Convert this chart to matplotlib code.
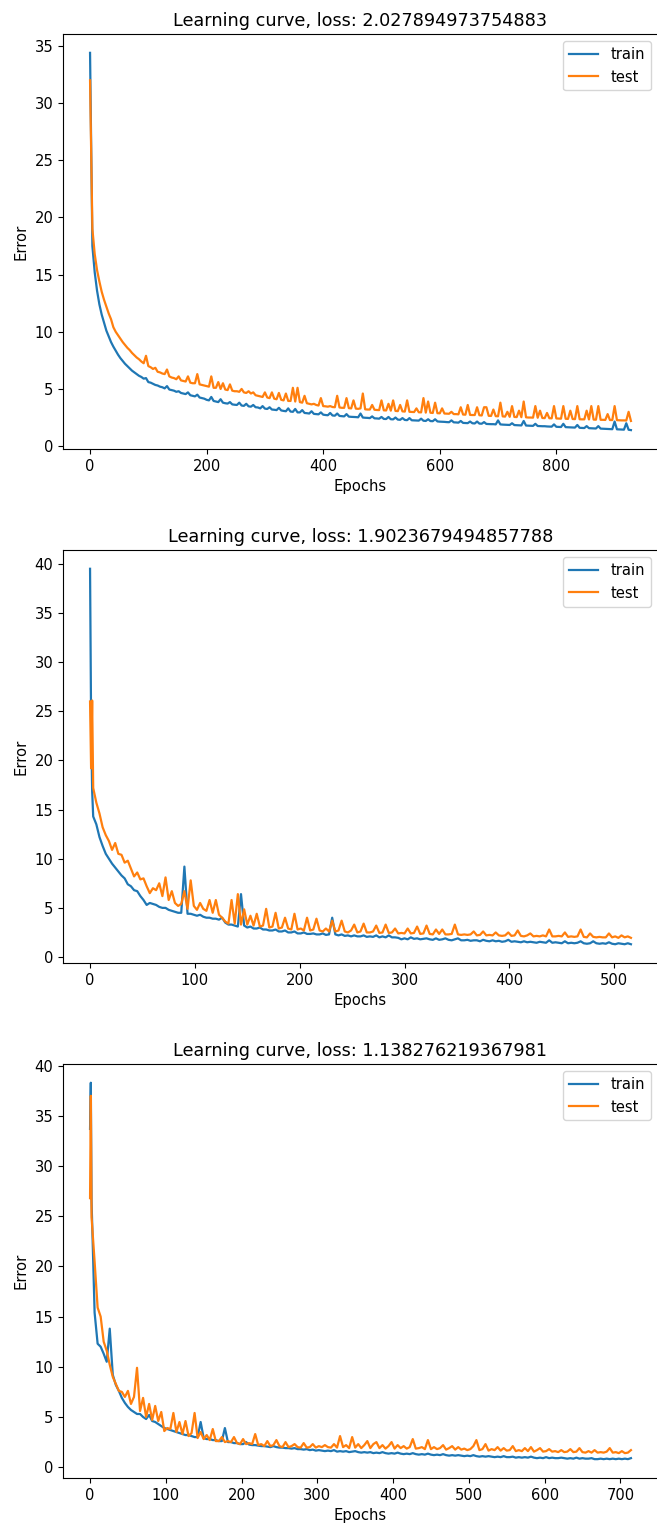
## Import Required Libraries

import numpy as np
import matplotlib
matplotlib.use("Agg")
import matplotlib.pyplot as plt

## Data

# run 1: first epochs written one by one, then every 4 epochs
run1_loss = "2.027894973754883"
run1_train = [
    34.4, 17.5, 15.2, 13.6, 12.4, 11.5, 10.8, 10.1, 9.6, 9.1,
    8.7, 8.35, 8.0, 7.7, 7.45, 7.2, 7.0, 6.8, 6.6, 6.45,
    6.3, 6.15, 6.05, 5.9, 5.95, 5.6, 5.55, 5.45, 5.35, 5.3,
    5.2, 5.15, 5.05, 5.25, 4.95, 4.9, 4.85, 4.75, 4.8, 4.65,
    4.6, 4.55, 4.7, 4.45, 4.4, 4.35, 4.5, 4.25, 4.2, 4.15,
    4.05, 4.0, 4.3, 3.95, 3.9, 3.85, 4.1, 3.8, 3.75, 3.72,
    3.85, 3.65, 3.62, 3.6, 3.8, 3.55, 3.52, 3.7, 3.48, 3.45,
    3.6, 3.4, 3.38, 3.3, 3.5, 3.28, 3.25, 3.4, 3.2, 3.18,
    3.15, 3.35, 3.12, 3.08, 3.05, 3.3, 3.02, 3.0, 3.25, 2.95,
    2.95, 3.15, 2.9, 2.88, 2.85, 3.05, 2.82, 2.8, 2.78, 2.95,
    2.75, 2.72, 2.7, 2.9, 2.68, 2.66, 2.85, 2.64, 2.62, 2.6,
    2.8, 2.58, 2.56, 2.55, 2.54, 2.52, 2.85, 2.5, 2.48, 2.47,
    2.45, 2.6, 2.43, 2.42, 2.4, 2.55, 2.38, 2.37, 2.55, 2.35,
    2.34, 2.5, 2.32, 2.3, 2.45, 2.29, 2.27, 2.45, 2.26, 2.25,
    2.24, 2.23, 2.4, 2.22, 2.2, 2.35, 2.19, 2.18, 2.35, 2.16,
    2.14, 2.13, 2.12, 2.1, 2.09, 2.25, 2.08, 2.07, 2.05, 2.2,
    2.03, 2.02, 2.01, 2.15, 2.0, 1.98, 2.15, 1.97, 1.96, 2.1,
    1.94, 1.93, 1.92, 1.92, 1.9, 2.25, 1.9, 1.88, 1.87, 1.86,
    1.85, 2.0, 1.84, 1.83, 1.82, 1.81, 2.2, 1.8, 1.79, 1.78,
    1.77, 1.95, 1.76, 1.75, 1.74, 1.74, 1.72, 1.71, 1.7, 1.9,
    1.69, 1.68, 1.67, 1.95, 1.66, 1.65, 1.64, 1.63, 1.62, 1.85,
    1.6, 1.59, 1.58, 1.75, 1.57, 1.56, 1.55, 1.54, 1.75, 1.53,
    1.52, 1.51, 1.5, 1.49, 1.48, 2.15, 1.47, 1.46, 1.45, 1.44,
    2.0, 1.43, 1.4,
]
run1_test = [
    32.0, 19.0, 16.8, 15.4, 14.4, 13.5, 12.8, 12.2, 11.6, 11.1,
    10.4, 10.0, 9.7, 9.4, 9.1, 8.85, 8.6, 8.4, 8.15, 7.95,
    7.75, 7.6, 7.4, 7.25, 7.9, 7.0, 6.9, 6.75, 6.85, 6.5,
    6.45, 6.35, 6.3, 6.7, 6.1, 6.0, 5.95, 5.85, 6.1, 5.75,
    5.7, 5.65, 6.1, 5.55, 5.5, 5.5, 6.3, 5.4, 5.35, 5.3,
    5.25, 5.2, 6.1, 5.1, 5.1, 5.6, 5.0, 5.5, 4.95, 4.9,
    5.4, 4.85, 4.8, 4.8, 4.75, 5.0, 4.7, 4.65, 4.8, 4.6,
    4.7, 4.45, 4.4, 4.35, 4.3, 4.7, 4.25, 4.2, 4.7, 4.15,
    4.1, 4.65, 4.05, 4.0, 4.6, 3.95, 3.95, 5.1, 3.9, 5.1,
    3.85, 3.8, 4.4, 3.75, 3.7, 3.65, 3.7, 3.6, 3.55, 4.2,
    3.5, 3.48, 3.45, 3.5, 3.42, 3.4, 4.4, 3.38, 3.35, 3.35,
    4.2, 3.32, 3.3, 4.0, 3.28, 3.26, 3.3, 4.6, 3.22, 3.2,
    3.2, 3.6, 3.18, 3.16, 3.15, 4.0, 3.13, 3.12, 3.7, 3.1,
    4.0, 3.08, 3.06, 3.6, 3.04, 3.02, 4.0, 3.0, 2.99, 2.98,
    3.3, 2.96, 2.95, 4.2, 2.93, 3.9, 2.92, 2.9, 3.8, 2.88,
    2.87, 3.3, 2.85, 2.84, 2.83, 3.0, 2.8, 2.8, 2.78, 3.4,
    2.76, 2.75, 3.6, 2.73, 2.72, 2.72, 3.4, 2.7, 2.68, 3.4,
    3.4, 2.65, 2.64, 3.2, 2.62, 2.61, 3.8, 2.6, 2.58, 3.0,
    2.56, 3.5, 2.55, 2.54, 3.1, 2.53, 3.9, 2.52, 2.5, 2.5,
    2.49, 3.5, 2.48, 3.1, 2.46, 2.45, 2.9, 2.44, 2.43, 3.5,
    2.42, 2.41, 2.4, 3.5, 2.39, 2.38, 3.1, 2.37, 2.36, 3.5,
    2.35, 2.34, 2.34, 3.1, 2.33, 3.5, 2.32, 2.31, 3.5, 2.3,
    2.3, 2.29, 2.8, 2.28, 2.28, 3.5, 2.27, 2.26, 2.25, 2.25,
    2.24, 3.0, 2.2,
]

# run 2: epochs 0, 1, 2 and then every 3 epochs
run2_loss = "1.9023679494857788"
run2_head = [0, 1, 2]
run2_train = [
    39.5, 24.0, 16.9,
    14.3, 13.5, 12.2, 11.3, 10.5, 10.0, 9.5, 9.1, 8.7, 8.3,
    8.0, 7.4, 7.2, 6.8, 6.7, 6.2, 5.8, 5.3, 5.5, 5.4,
    5.3, 5.1, 5.0, 5.0, 4.8, 4.7, 4.6, 4.5, 4.5, 9.2,
    4.4, 4.4, 4.3, 4.2, 4.3, 4.1, 4.0, 4.0, 3.9, 3.9,
    3.8, 4.0, 3.5, 3.3, 3.3, 3.2, 3.1, 6.4, 3.2, 3.0,
    3.1, 2.9, 2.9, 3.0, 2.8, 2.8, 2.7, 2.7, 2.8, 2.6,
    2.6, 2.7, 2.5, 2.5, 2.6, 2.4, 2.4, 2.5, 2.35, 2.35,
    2.4, 2.3, 2.3, 2.4, 2.25, 2.3, 4.0, 2.3, 2.2, 2.3,
    2.15, 2.2, 2.1, 2.2, 2.1, 2.1, 2.2, 2.05, 2.1, 2.05,
    2.2, 2.0, 2.1, 2.0, 2.2, 2.0, 2.0, 1.95, 1.8, 1.9,
    1.8, 2.0, 1.85, 1.9, 1.8, 1.85, 1.9, 1.8, 1.75, 1.9,
    1.75, 1.8, 1.9, 1.75, 1.7, 1.8, 1.9, 1.7, 1.7, 1.75,
    1.65, 1.7, 1.7, 1.6, 1.75, 1.65, 1.6, 1.7, 1.6, 1.65,
    1.55, 1.6, 1.75, 1.55, 1.6, 1.55, 1.5, 1.6, 1.5, 1.55,
    1.5, 1.45, 1.55, 1.5, 1.45, 1.7, 1.45, 1.5, 1.45, 1.4,
    1.6, 1.4, 1.45, 1.4, 1.45, 1.6, 1.4, 1.35, 1.4, 1.6,
    1.4, 1.35, 1.4, 1.35, 1.5, 1.35, 1.3, 1.4, 1.35, 1.3,
    1.4, 1.3,
]
run2_test = [
    26.0, 19.2, 26.1,
    17.2, 15.7, 14.6, 13.2, 12.4, 11.8, 10.9, 11.6, 10.5, 10.4,
    9.6, 9.8, 9.0, 8.2, 8.6, 7.9, 8.0, 7.2, 6.5, 7.0,
    6.8, 7.5, 6.2, 8.1, 5.8, 6.7, 5.5, 5.2, 5.4, 6.7,
    4.9, 7.8, 5.2, 4.8, 5.5, 4.9, 4.7, 5.8, 4.5, 5.8,
    4.3, 4.0, 3.6, 3.4, 5.8, 3.4, 6.4, 3.3, 4.85, 3.3,
    4.2, 3.2, 4.4, 3.1, 3.2, 4.9, 3.0, 3.1, 4.5, 2.9,
    3.0, 4.0, 2.9, 2.8, 4.4, 2.8, 2.9, 2.7, 4.0, 2.7,
    2.8, 3.9, 2.7, 2.6, 2.9, 2.6, 3.7, 2.6, 2.7, 3.7,
    2.6, 2.5, 2.7, 3.3, 2.5, 2.6, 3.4, 2.5, 2.5, 2.6,
    3.2, 2.45, 2.5, 3.3, 2.45, 2.5, 2.9, 2.4, 2.45, 2.4,
    2.9, 2.4, 2.45, 3.1, 2.35, 2.4, 3.2, 2.35, 2.3, 2.8,
    2.35, 2.8, 2.3, 2.3, 2.35, 3.3, 2.3, 2.25, 2.3, 2.25,
    2.3, 2.6, 2.2, 2.25, 2.6, 2.2, 2.25, 2.2, 2.5, 2.2,
    2.15, 2.2, 2.5, 2.15, 2.2, 2.7, 2.15, 2.1, 2.2, 2.4,
    2.1, 2.15, 2.1, 2.2, 2.1, 2.8, 2.1, 2.1, 2.15, 2.1,
    2.5, 2.05, 2.1, 2.05, 2.1, 2.8, 2.05, 2.0, 2.4, 2.05,
    2.0, 2.05, 2.0, 2.0, 2.4, 2.0, 2.1, 1.95, 2.2, 2.0,
    2.1, 1.95,
]

# run 3: epochs 0, 1 and then every 4 epochs from 2
run3_loss = "1.138276219367981"
run3_head = [0, 1]
run3_train = [
    33.7, 38.3,
    26.5, 15.4, 12.3, 12.0, 11.3, 10.5, 13.8, 9.2, 8.2, 7.6,
    6.9, 6.4, 6.0, 5.7, 5.5, 5.3, 5.3, 5.0, 4.8, 5.2,
    4.6, 4.5, 4.3, 4.1, 3.9, 3.8, 3.7, 3.6, 3.5, 3.4,
    3.3, 3.2, 3.2, 3.1, 3.0, 3.0, 4.5, 2.9, 2.8, 2.8,
    2.7, 2.7, 2.6, 2.6, 3.9, 2.5, 2.5, 2.4, 2.4, 2.3,
    2.3, 2.5, 2.25, 2.2, 2.2, 2.15, 2.1, 2.1, 2.05, 2.0,
    2.1, 2.0, 1.95, 1.95, 1.9, 1.9, 1.85, 1.9, 1.8, 1.8,
    1.75, 1.8, 1.7, 1.75, 1.65, 1.7, 1.65, 1.6, 1.65, 1.6,
    1.7, 1.55, 1.6, 1.55, 1.6, 1.5, 1.55, 1.6, 1.5, 1.45,
    1.5, 1.45, 1.5, 1.4, 1.45, 1.4, 1.5, 1.4, 1.35, 1.4,
    1.35, 1.45, 1.35, 1.3, 1.35, 1.3, 1.4, 1.3, 1.25, 1.3,
    1.25, 1.35, 1.25, 1.2, 1.25, 1.2, 1.3, 1.2, 1.15, 1.2,
    1.15, 1.2, 1.15, 1.1, 1.15, 1.1, 1.2, 1.1, 1.05, 1.1,
    1.05, 1.1, 1.05, 1.0, 1.05, 1.0, 1.1, 1.0, 1.0, 1.05,
    0.95, 1.0, 0.95, 1.0, 0.95, 1.05, 0.95, 0.9, 0.95, 0.9,
    1.0, 0.9, 0.95, 0.9, 0.9, 0.95, 0.9, 0.85, 0.9, 0.85,
    0.95, 0.85, 0.9, 0.85, 0.85, 0.9, 0.8, 0.8, 0.85, 0.8,
    0.85, 0.8, 0.85, 0.8, 0.85, 0.8, 0.85, 0.8, 0.9,
]
run3_test = [
    26.8, 37.0,
    24.9, 20.5, 15.9, 15.0, 12.5, 11.6, 10.2, 9.0, 8.3, 7.6,
    7.5, 7.0, 7.6, 6.3, 7.0, 9.9, 5.6, 6.9, 5.0, 6.3,
    4.7, 6.1, 4.6, 5.5, 3.6, 3.9, 3.8, 5.4, 3.5, 4.5,
    3.3, 4.6, 3.1, 3.4, 5.4, 2.9, 3.5, 2.8, 3.2, 2.7,
    3.8, 2.6, 2.6, 3.0, 2.5, 2.6, 2.5, 3.0, 2.4, 2.3,
    2.8, 2.3, 2.4, 2.3, 3.3, 2.2, 2.3, 2.1, 2.6, 2.1,
    2.2, 2.7, 2.1, 2.0, 2.5, 2.0, 2.1, 2.3, 2.0, 1.95,
    2.4, 1.95, 2.0, 2.3, 1.95, 2.1, 2.0, 2.2, 2.0, 1.95,
    2.3, 1.95, 3.1, 2.0, 2.2, 1.9, 3.0, 1.95, 2.3, 1.9,
    2.2, 2.6, 1.9, 2.3, 2.5, 1.9, 2.2, 1.85, 2.1, 2.5,
    1.85, 2.2, 1.9, 2.1, 1.85, 2.0, 2.8, 1.85, 1.9, 2.0,
    1.8, 2.7, 1.8, 2.0, 1.8, 1.9, 2.2, 1.75, 1.9, 2.1,
    1.75, 2.0, 1.75, 1.85, 1.7, 1.8, 2.1, 2.7, 1.7, 1.8,
    2.3, 1.65, 1.8, 1.7, 2.0, 1.65, 1.9, 1.65, 1.7, 2.1,
    1.6, 1.7, 1.6, 1.9, 1.6, 2.0, 1.55, 1.7, 1.9, 1.55,
    1.6, 1.8, 1.55, 1.6, 1.5, 1.7, 1.5, 1.55, 1.8, 1.5,
    1.55, 1.9, 1.5, 1.45, 1.6, 1.45, 1.7, 1.45, 1.5, 1.45,
    1.55, 1.9, 1.45, 1.5, 1.4, 1.6, 1.4, 1.45, 1.7,
]


def epochs(head, first, step, total):
    # listed epochs first, then a regular grid for the rest of the values
    rest = first + step * np.arange(total - len(head))
    return np.concatenate([np.array(head, dtype=float), rest])


runs = [
    (run1_loss, epochs([], 0, 4, len(run1_train)), run1_train, run1_test),
    (run2_loss, epochs(run2_head, 3, 3, len(run2_train)), run2_train, run2_test),
    (run3_loss, epochs(run3_head, 2, 4, len(run3_train)), run3_train, run3_test),
]

## Style (reference text is a little larger than the default)

plt.rcParams["font.size"] = 10.6
plt.rcParams["lines.linewidth"] = 1.6

## Create Figure

fig = plt.figure(figsize=(6.57, 15.24), dpi=100)

# axes boxes measured on the reference (left, bottom, width, height)
boxes = [
    (0.0959, 0.7054, 0.9056, 0.2723),
    (0.0959, 0.3681, 0.9056, 0.2710),
    (0.0959, 0.0302, 0.9056, 0.2717),
]

for box, (loss, x, train, test) in zip(boxes, runs):
    ax = fig.add_axes(box)
    ax.plot(x, train, label="train")
    ax.plot(x[:len(test)], test, label="test")
    ax.set_title("Learning curve, loss: " + loss)
    ax.set_xlabel("Epochs")
    ax.set_ylabel("Error")
    ax.legend(loc="upper right")

## Save

fig.savefig("out.png", dpi=100)
